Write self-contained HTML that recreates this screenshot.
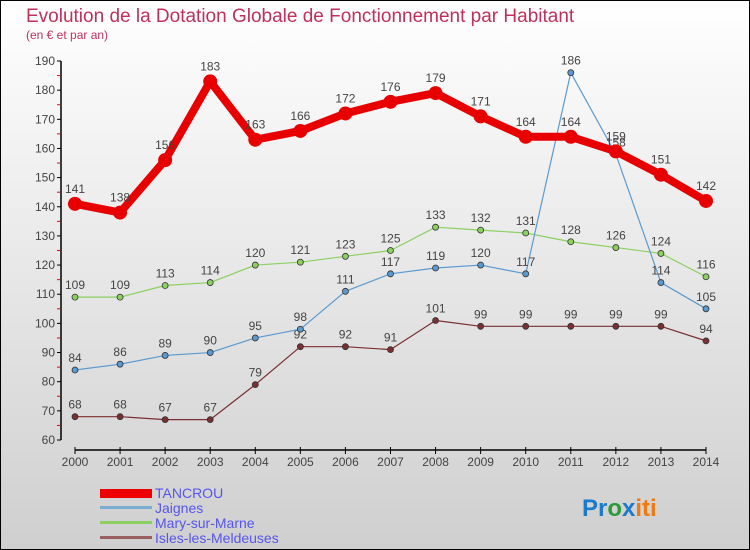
<!DOCTYPE html>
<html><head><meta charset="utf-8"><style>
body{margin:0;}
#c{width:750px;height:550px;position:relative;overflow:hidden;font-family:"Liberation Sans",sans-serif;}
text{font-family:"Liberation Sans",sans-serif;}
</style></head><body>
<div id="c">
<svg id="s" width="750" height="550" xmlns="http://www.w3.org/2000/svg">
<defs><linearGradient id="bg" x1="0" y1="0" x2="0" y2="1"><stop offset="0" stop-color="#ffffff"/><stop offset="1" stop-color="#cfcfcf"/></linearGradient></defs>
<rect x="0.5" y="0.5" width="749" height="549" fill="url(#bg)" stroke="#000"/>
<text x="26" y="22" font-size="19" fill="#c0305a">Evolution de la Dotation Globale de Fonctionnement par Habitant</text>
<text x="26" y="39" font-size="12" fill="#c0305a">(en € et par an)</text>
<g id="axes"></g><g id="series"></g>
<g>
<rect x="100" y="489" width="52" height="9" fill="#e00"/>
<text x="155" y="498" font-size="14" fill="#5555ee">TANCROU</text>
<rect x="100" y="506" width="52" height="3" fill="#7aaed0"/>
<text x="155" y="513" font-size="14" fill="#5555ee">Jaignes</text>
<rect x="100" y="521" width="52" height="3" fill="#8cd060"/>
<text x="155" y="528" font-size="14" fill="#5555ee">Mary-sur-Marne</text>
<rect x="100" y="536" width="52" height="3" fill="#9a6060"/>
<text x="155" y="543" font-size="14" fill="#5555ee">Isles-les-Meldeuses</text>
</g>
<g font-size="24" font-weight="bold">
<text x="582" y="516"><tspan fill="#1a7acc">Pr</tspan><tspan fill="#2a9a3a">o</tspan><tspan fill="#1a7acc">x</tspan><tspan fill="#f07a10">iti</tspan></text>
</g>
</svg></div>
<script>
const years=[2000,2001,2002,2003,2004,2005,2006,2007,2008,2009,2010,2011,2012,2013,2014];
const yTicks=[60,70,80,90,100,110,120,130,140,150,160,170,180,190];
const tancrou=[141,138,156,183,163,166,172,176,179,171,164,164,159,151,142];
const jaignes=[84,86,89,90,95,98,111,117,119,120,117,186,158,114,105];
const mary=[109,109,113,114,120,121,123,125,133,132,131,128,126,124,116];
const isles=[68,68,67,67,79,92,92,91,101,99,99,99,99,99,94];
const NS="http://www.w3.org/2000/svg";
const x=i=>75+i*(706-75)/14;
const y=v=>440-(v-60)*(440-61)/130;
function mk(tag,attrs,parent){const e=document.createElementNS(NS,tag);for(const k in attrs)e.setAttribute(k,attrs[k]);parent.appendChild(e);return e;}
const ax=document.getElementById('axes');
let yl=mk('line',{x1:61,y1:61,x2:61,y2:440,stroke:'#000','stroke-width':1.5},ax);


let xl=mk('line',{x1:75,y1:450,x2:706,y2:450,stroke:'#000','stroke-width':1.5},ax);


yTicks.forEach(v=>{
 mk('line',{x1:57,y1:y(v),x2:61,y2:y(v),stroke:'#000'},ax);
 if(v<190)mk('line',{x1:57,y1:y(v+5),x2:60,y2:y(v+5),stroke:'#e00'},ax);
 const t=mk('text',{x:55,y:y(v)+4,'font-size':12,fill:'#444','text-anchor':'end'},ax);t.textContent=v;
 
 
});
years.forEach((yr,i)=>{
 mk('line',{x1:x(i),y1:447,x2:x(i),y2:454,stroke:'#000'},ax);
 const t=mk('text',{x:x(i),y:466,'font-size':12,fill:'#444','text-anchor':'middle'},ax);t.textContent=yr;
 
 
});
const sg=document.getElementById('series');
function series(data,color,w,r,name){
 const g=mk('g',{},sg);
 
 
 mk('polyline',{points:data.map((v,i)=>x(i)+','+y(v)).join(' '),fill:'none',stroke:color,'stroke-width':w,'stroke-linejoin':'round'},g);
 data.forEach((v,i)=>{
  const c=mk('circle',{cx:x(i),cy:y(v),r:r,fill:color,stroke:'#333','stroke-width':r>5?0:0.8},g);
  
  
  const t=mk('text',{x:x(i),y:y(v)-(r>5?11:8),'font-size':12,fill:'#444','text-anchor':'middle'},g);t.textContent=v;
  
  
 });
}
series(isles,'#7a3030',1.2,3,'series-isles');
series(mary,'#8cd060',1.2,3,'series-mary');
series(jaignes,'#5a9ad0',1.2,3,'series-jaignes');
series(tancrou,'#e80000',8,7,'series-tancrou');
</script>
</body></html>
